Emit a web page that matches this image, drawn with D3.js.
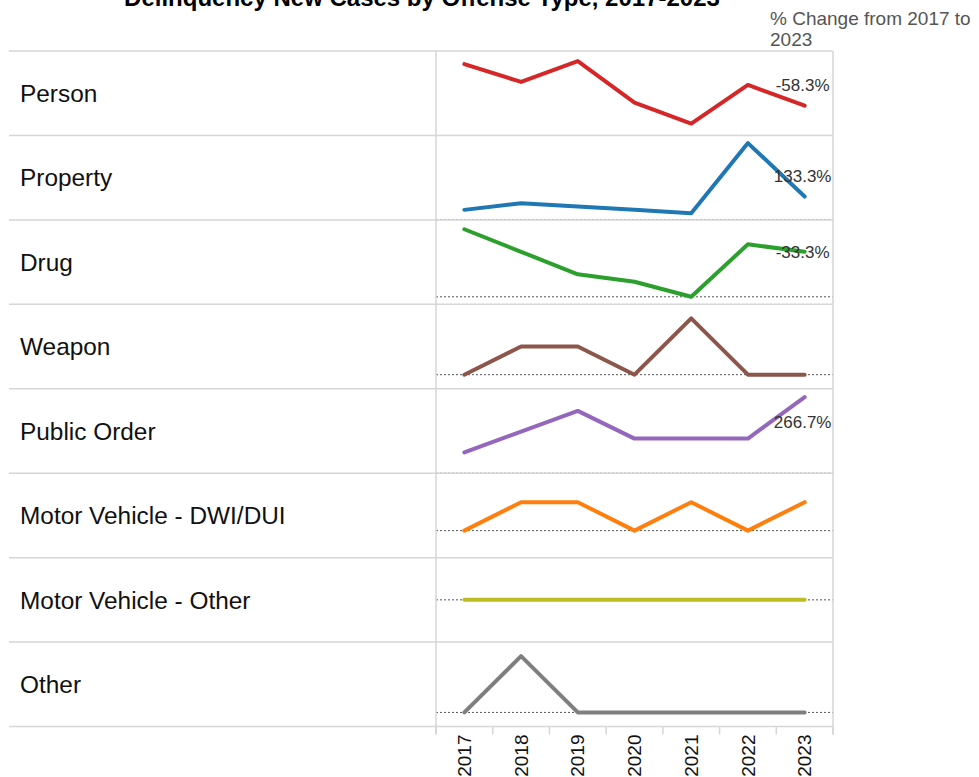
<!DOCTYPE html>
<html>
<head>
<meta charset="utf-8">
<script src="https://cdn.jsdelivr.net/npm/d3@7"></script>
<style>
body { margin: 0; background: #ffffff; }
text { font-family: Arial, "Liberation Sans", sans-serif; }
</style>
</head>
<body>
<div id="chart"></div>
<script>

//years on the x axis
var years = ["2017", "2018", "2019", "2020", "2021", "2022", "2023"];

//offense types, one row each
var offenses = ["Person", "Property", "Drug", "Weapon", "Public Order",
    "Motor Vehicle - DWI/DUI", "Motor Vehicle - Other", "Other"];

//new cases per year, 2017-2023
var person      = [24, 18, 25, 11, 4, 17, 10];
var property    = [3, 5, 4, 3, 2, 23, 7];
var drug        = [9, 6, 3, 2, 0, 7, 6];
var weapon      = [0, 1, 1, 0, 2, 0, 0];
var publicOrder = [3, 6, 9, 5, 5, 5, 11];
var dwi         = [0, 1, 1, 0, 1, 0, 1];
var mvOther     = [0, 0, 0, 0, 0, 0, 0];
var other       = [0, 2, 0, 0, 0, 0, 0];

var seriesValues = [person, property, drug, weapon, publicOrder, dwi, mvOther, other];

//each row has its own value axis (independent ranges)
var yDomains = [[0, 28.4], [0, 25.3], [-1, 10.25], [-0.5, 2.5],
    [0, 12.2], [-0.95, 2.02], [-1, 1], [-0.5, 2.5]];

//where the % change label sits relative to the 2023 point
var labelSpots = ["above", "above", "middle", "above", "below", "above", "above", "above"];

var colors = ["#d62728", "#1f77b4", "#2ca02c", "#8c564b",
    "#9467bd", "#ff7f0e", "#bcbd22", "#7f7f7f"];

//set sizes
var width = 979,
    height = 777,
    tableLeft = 9,
    panelLeft = 436,
    panelRight = 833,
    gridTop = 51,
    gridBottom = 726.5;

var gridColor = "#d6d6d6";

var svg = d3.select("#chart")
    .append("svg")
    .attr("width", width)
    .attr("height", height);

svg.append("rect")
    .attr("width", width)
    .attr("height", height)
    .attr("fill", "#ffffff");

var x = d3.scaleBand()
    .domain(years)
    .range([panelLeft, panelRight]);

var row = d3.scaleBand()
    .domain(offenses)
    .range([gridTop, gridBottom]);

var fmt = d3.format(".1%");

//title (partly cut off at the top, as in the source)
svg.append("text")
    .attr("x", 422)
    .attr("y", 6)
    .attr("text-anchor", "middle")
    .style("font-size", "24px")
    .style("font-weight", "bold")
    .attr("fill", "#000")
    .text("Delinquency New Cases by Offense Type, 2017-2023");

//column header for the labels
var header = svg.append("text")
    .attr("x", 770)
    .attr("y", 25)
    .style("font-size", "19px")
    .attr("fill", "#555");
header.append("tspan").attr("x", 770).text("% Change from 2017 to");
header.append("tspan").attr("x", 770).attr("dy", 21).text("2023");

//row labels
svg.append("g").attr("class", "rowLabels")
    .selectAll("text")
    .data(offenses).enter()
    .append("text")
    .attr("x", 20)
    .attr("y", function(d) { return row(d) + row.bandwidth() / 2 + 8.8; })
    .style("font-size", "24.4px")
    .attr("fill", "#111")
    .text(function(d) { return d; });

var defs = svg.append("defs");
var cells = svg.append("g").attr("class", "cells");

//row separators, drawn over the zero lines
var seps = offenses.map(function(d) { return row(d); }).concat([gridBottom]);
svg.append("g").attr("class", "grid")
    .selectAll("line")
    .data(seps).enter()
    .append("line")
    .attr("x1", tableLeft)
    .attr("x2", panelRight)
    .attr("y1", function(d) { return d; })
    .attr("y2", function(d) { return d; })
    .attr("stroke", gridColor)
    .attr("stroke-width", 1.5);

//vertical borders of the chart panel
[panelLeft, panelRight].forEach(function(px) {
    svg.append("line")
        .attr("x1", px).attr("x2", px)
        .attr("y1", gridTop).attr("y2", gridBottom + 8)
        .attr("stroke", gridColor)
        .attr("stroke-width", 1.5);
});

var marks = svg.append("g").attr("class", "marks");

//one small chart per offense
offenses.forEach(function(name, i) {

    var top = row(name),
        bottom = top + row.bandwidth();

    var y = d3.scaleLinear()
        .domain(yDomains[i])
        .range([bottom, top]);

    defs.append("clipPath")
        .attr("id", "clip" + i)
        .append("rect")
        .attr("x", panelLeft)
        .attr("y", top)
        .attr("width", panelRight - panelLeft)
        .attr("height", row.bandwidth());

    //zero reference line
    cells.append("line")
        .attr("clip-path", "url(#clip" + i + ")")
        .attr("x1", panelLeft)
        .attr("x2", panelRight)
        .attr("y1", y(0))
        .attr("y2", y(0))
        .attr("stroke", "#555")
        .attr("stroke-width", 1)
        .style("stroke-dasharray", ("2, 2"));

    var pts = years.map(function(yr, j) { return {year: yr, value: seriesValues[i][j]}; });

    var line = d3.line()
        .x(function(d) { return x(d.year) + x.bandwidth() / 2; })
        .y(function(d) { return y(d.value); });

    marks.append("path")
        .datum(pts)
        .attr("d", line)
        .attr("fill", "none")
        .attr("stroke", colors[i])
        .attr("stroke-width", 4)
        .attr("stroke-linecap", "round")
        .attr("stroke-linejoin", "round");

    //% change label, only when 2017 is not zero
    var first = pts[0].value,
        last = pts[pts.length - 1].value;
    if (first !== 0) {
        var ly = y(last);
        if (labelSpots[i] === "above") ly = ly - 15;
        else if (labelSpots[i] === "middle") ly = ly + 6;
        else ly = ly + 31;

        marks.append("text")
            .attr("x", x(years[years.length - 1]) + x.bandwidth() / 2 - 2)
            .attr("y", ly)
            .attr("text-anchor", "middle")
            .style("font-size", "17px")
            .attr("fill", "#333")
            .text(fmt((last - first) / first).replace("\u2212", "-"));
    }
});

//x axis: tick marks at band edges, rotated year labels
var edges = years.map(function(d) { return x(d); }).concat([panelRight]);
svg.append("g").attr("class", "ticks")
    .selectAll("line")
    .data(edges).enter()
    .append("line")
    .attr("x1", function(d) { return d; })
    .attr("x2", function(d) { return d; })
    .attr("y1", gridBottom)
    .attr("y2", gridBottom + 8)
    .attr("stroke", gridColor)
    .attr("stroke-width", 1.5);

var xAxis = svg.append("g")
    .attr("class", "x axis")
    .attr("transform", "translate(0," + gridBottom + ")")
    .call(d3.axisBottom(x).tickSize(0));

xAxis.select(".domain").remove();

xAxis.selectAll("text")
    .attr("transform", "rotate(-90)")
    .attr("x", -8)
    .attr("y", 0)
    .attr("dy", "0.35em")
    .attr("text-anchor", "end")
    .style("font-size", "19px")
    .style("font-family", "Arial, 'Liberation Sans', sans-serif")
    .attr("fill", "#111");

</script>
</body>
</html>
